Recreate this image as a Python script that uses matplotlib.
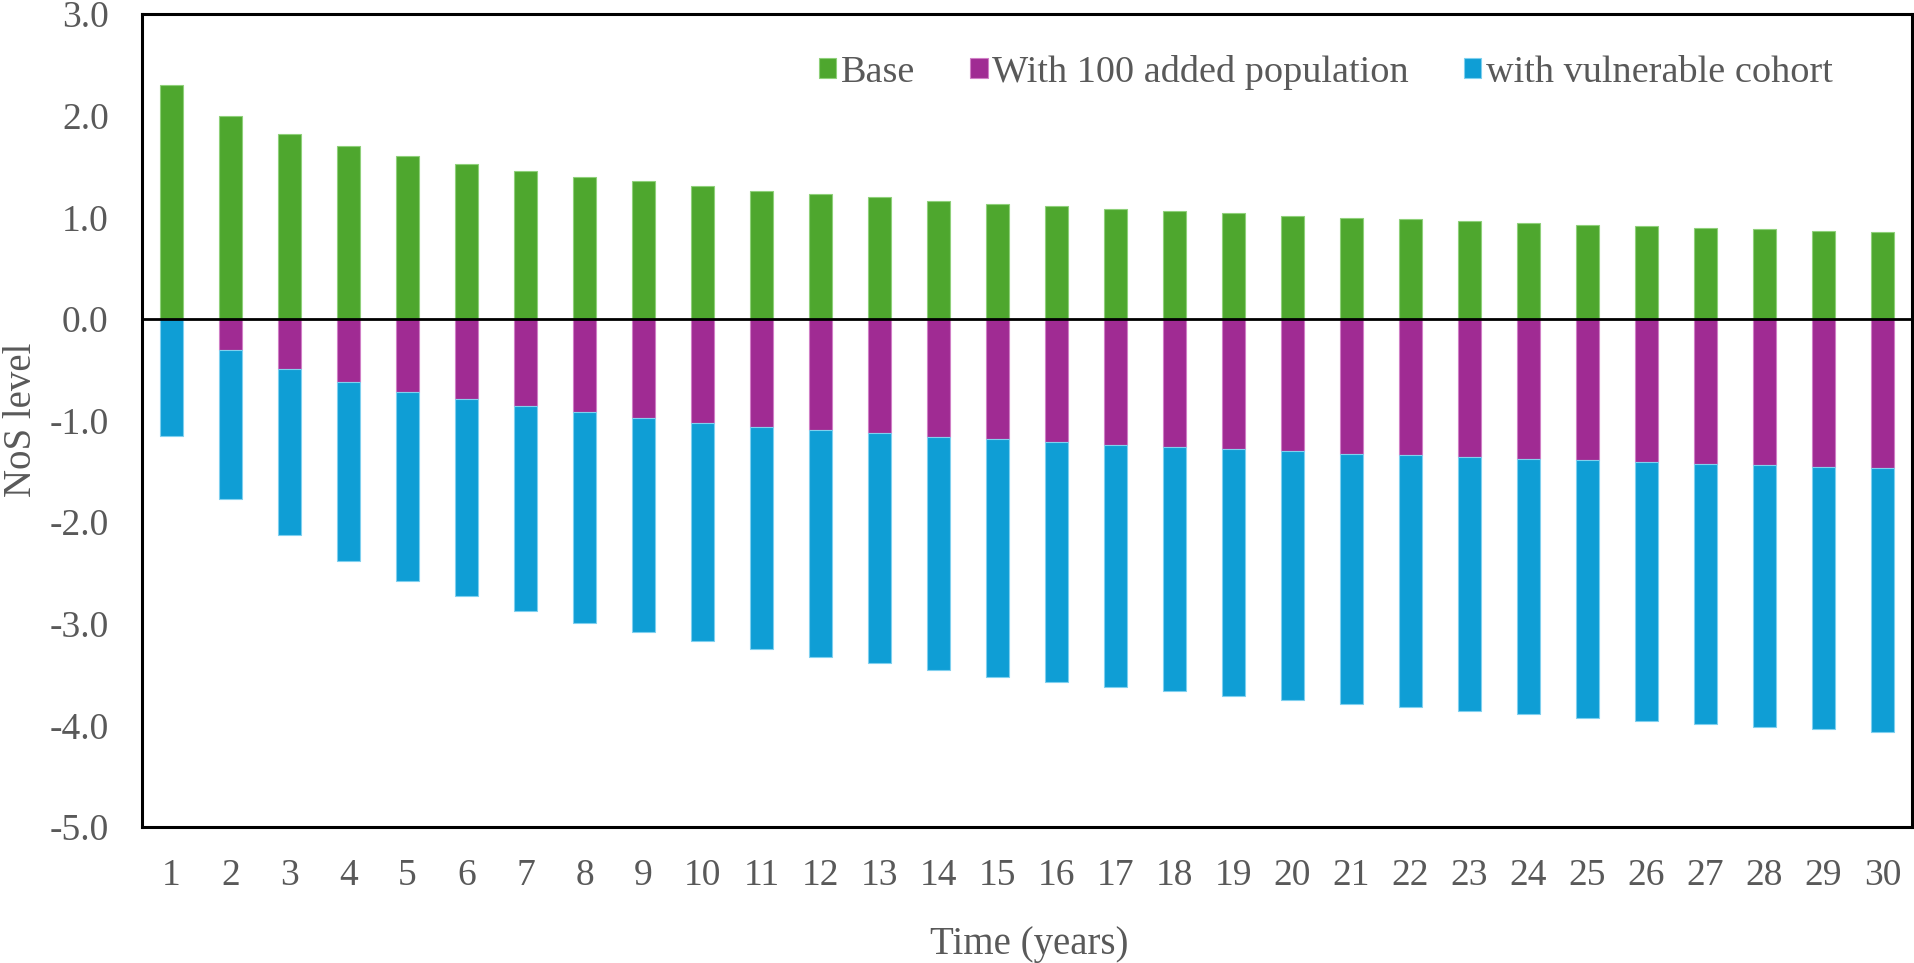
# -*- coding: utf-8 -*-
""" NoS level over time: base vs added population vs vulnerable cohort """
import numpy as np
from matplotlib import pyplot as plt

years = list(range(1, 31))

# green bars, above zero
base = [2.30, 2.00, 1.82, 1.70, 1.60, 1.52, 1.46, 1.40, 1.36, 1.31,
        1.26, 1.23, 1.20, 1.16, 1.13, 1.11, 1.08, 1.06, 1.04, 1.01,
        0.99, 0.98, 0.96, 0.94, 0.92, 0.91, 0.89, 0.88, 0.86, 0.85]

# purple segment, from zero down
added_population = [0.00, -0.31, -0.49, -0.62, -0.72, -0.79, -0.86, -0.92, -0.98, -1.02,
                    -1.06, -1.09, -1.12, -1.16, -1.18, -1.21, -1.24, -1.26, -1.28, -1.30,
                    -1.33, -1.34, -1.36, -1.38, -1.39, -1.41, -1.43, -1.44, -1.46, -1.47]

# blue segment, stacked under the purple one
vulnerable_cohort = [-1.15, -1.46, -1.64, -1.76, -1.86, -1.94, -2.01, -2.07, -2.10, -2.15,
                     -2.19, -2.24, -2.27, -2.30, -2.34, -2.36, -2.38, -2.40, -2.43, -2.45,
                     -2.46, -2.48, -2.50, -2.51, -2.54, -2.55, -2.56, -2.58, -2.58, -2.60]

y_ticks = [3.0, 2.0, 1.0, 0.0, -1.0, -2.0, -3.0, -4.0, -5.0]

if __name__ == "__main__":
    plt.rcParams["font.family"] = ["Liberation Serif", "DejaVu Serif"]
    text_color = "#595959"

    figure = plt.figure(figsize=(19.14, 9.63), dpi=100)
    axis = figure.add_axes([142 / 1914, 1 - 827 / 963, 1770 / 1914, 813 / 963])

    x = np.array(years)
    width = 0.4
    edge = dict(linewidth=0.8)

    axis.bar(x, base, width=width, color="#4EA72E", edgecolor="#8fd07a",
             label="Base", **edge)
    axis.bar(x, added_population, width=width, color="#A02B93", edgecolor="#d07fc6",
             label="With 100 added population", **edge)
    axis.bar(x, vulnerable_cohort, width=width, bottom=added_population,
             color="#0F9ED5", edgecolor="#7fd0ef", label="with vulnerable cohort", **edge)

    axis.axhline(0, color="black", linewidth=2.0, zorder=3)

    axis.set_xlim(0.5, 30.5)
    axis.set_ylim(-5.0, 3.0)
    axis.set_xticks(x)
    axis.set_xticklabels([str(y) for y in years])
    axis.set_yticks(y_ticks)
    axis.set_yticklabels([f"{v:.1f}" for v in y_ticks])
    axis.tick_params(axis="both", length=0, labelsize=27, colors=text_color)
    axis.tick_params(axis="x", pad=23)
    axis.tick_params(axis="y", pad=24)
    for spine in axis.spines.values():
        spine.set_linewidth(2.2)
        spine.set_color("black")

    figure.text(1029 / 1914, 1 - 944 / 963, "Time (years)", fontsize=28,
                color=text_color, ha="center", va="center")
    figure.text(22 / 1914, 1 - 420 / 963, "NoS level", fontsize=28,
                color=text_color, ha="center", va="center", rotation=90)

    legend = axis.legend(
        loc="center right",
        bbox_to_anchor=(1852 / 1914, 1 - 72 / 963),
        bbox_transform=figure.transFigure,
        ncol=3,
        frameon=False,
        fontsize=27.5,
        handlelength=0.45,
        handleheight=0.45,
        handletextpad=0.12,
        columnspacing=1.45,
        borderpad=0,
    )
    for text in legend.get_texts():
        text.set_color(text_color)

    figure.savefig("out.png", dpi=100)
